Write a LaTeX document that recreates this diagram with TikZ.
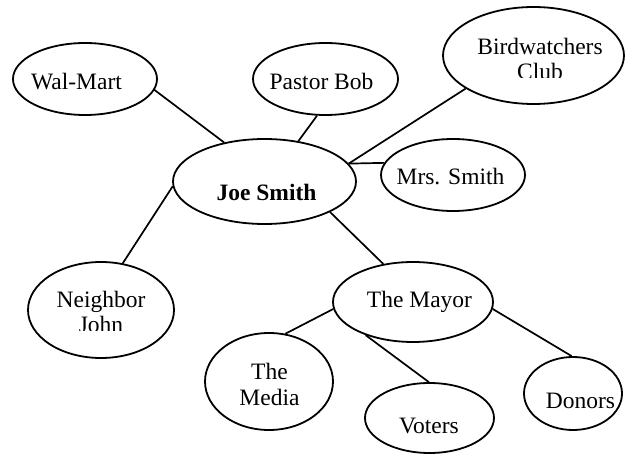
\documentclass[tikz,border=0pt]{standalone}
\usepackage{fontspec}
\setmainfont{Liberation Serif}
\usetikzlibrary{shapes.geometric}
\begin{document}
\begin{tikzpicture}[x=1pt,y=-1pt,
  bubble/.style={draw, ellipse, line width=1.8pt, inner sep=0pt},
  lbl/.style={anchor=base, inner sep=0pt, font=\fontsize{23.5}{25}\selectfont},
  link/.style={line width=1.7pt}]
\useasboundingbox (0,0) rectangle (632,454);
% ellipses
\node[bubble, minimum width=144pt, minimum height=72pt] (walmart) at (85,79) {};
\node[bubble, minimum width=145pt, minimum height=72pt] (pastor) at (325.5,79) {};
\node[bubble, minimum width=181pt, minimum height=97pt] (bird) at (533.5,55.5) {};
\node[bubble, minimum width=144pt, minimum height=72pt] (mrs) at (453,175) {};
\node[bubble, minimum width=183pt, minimum height=85pt] (joe) at (264.5,181.5) {};
\node[bubble, minimum width=146pt, minimum height=96pt] (neighbor) at (101,310) {};
\node[bubble, minimum width=160pt, minimum height=80pt] (mayor) at (413,302) {};
\node[bubble, minimum width=128pt, minimum height=97pt] (media) at (269,381.5) {};
\node[bubble, minimum width=129pt, minimum height=70pt] (voters) at (429.5,418) {};
\node[bubble, minimum width=98pt, minimum height=73pt] (donors) at (573,393.5) {};
% labels
\node[lbl] (t-walmart) at (76.5,90) {Wal-Mart};
\node[lbl] (t-pastor) at (321.5,90) {Pastor Bob};
\node[lbl] (t-bird1) at (540,55) {Birdwatchers};
\begin{scope}
  \clip (433,0) rectangle (632,77.5);
  \node[lbl] (t-bird2) at (540,80) {Club};
\end{scope}
\node[lbl] (t-mrs) at (450.5,185) {Mrs. Smith};
\node[lbl, font=\fontsize{23.5}{25}\selectfont\bfseries] (t-joe) at (266.5,201) {Joe Smith};
\node[lbl] (t-neighbor1) at (101,308) {Neighbor};
\begin{scope}
  \clip (20,260) rectangle (180,331);
  \node[lbl] (t-neighbor2) at (101,333) {John};
\end{scope}
\node[lbl] (t-mayor) at (419.5,308) {The Mayor};
\node[lbl] (t-media1) at (269.5,380) {The};
\node[lbl] (t-media2) at (269.5,405) {Media};
\node[lbl] (t-voters) at (429,433) {Voters};
\node[lbl] (t-donors) at (580.5,408) {Donors};
% connectors
\draw[link] (walmart.-9) -- (joe.136);
\draw[link] (pastor.257) -- (joe.50);
\draw[link] (bird.206) -- (joe.12);
\draw[link] (joe.12) -- (mrs.170);
\draw[link] (joe.183) -- (neighbor.65);
\draw[link] (joe.-25) -- (mayor.128);
\draw[link] (mayor.185) -- (media.71);
\draw[link] (mayor.215) -- (voters.91);
\draw[link] (mayor.-5) -- (donors.92);
\end{tikzpicture}
\end{document}
